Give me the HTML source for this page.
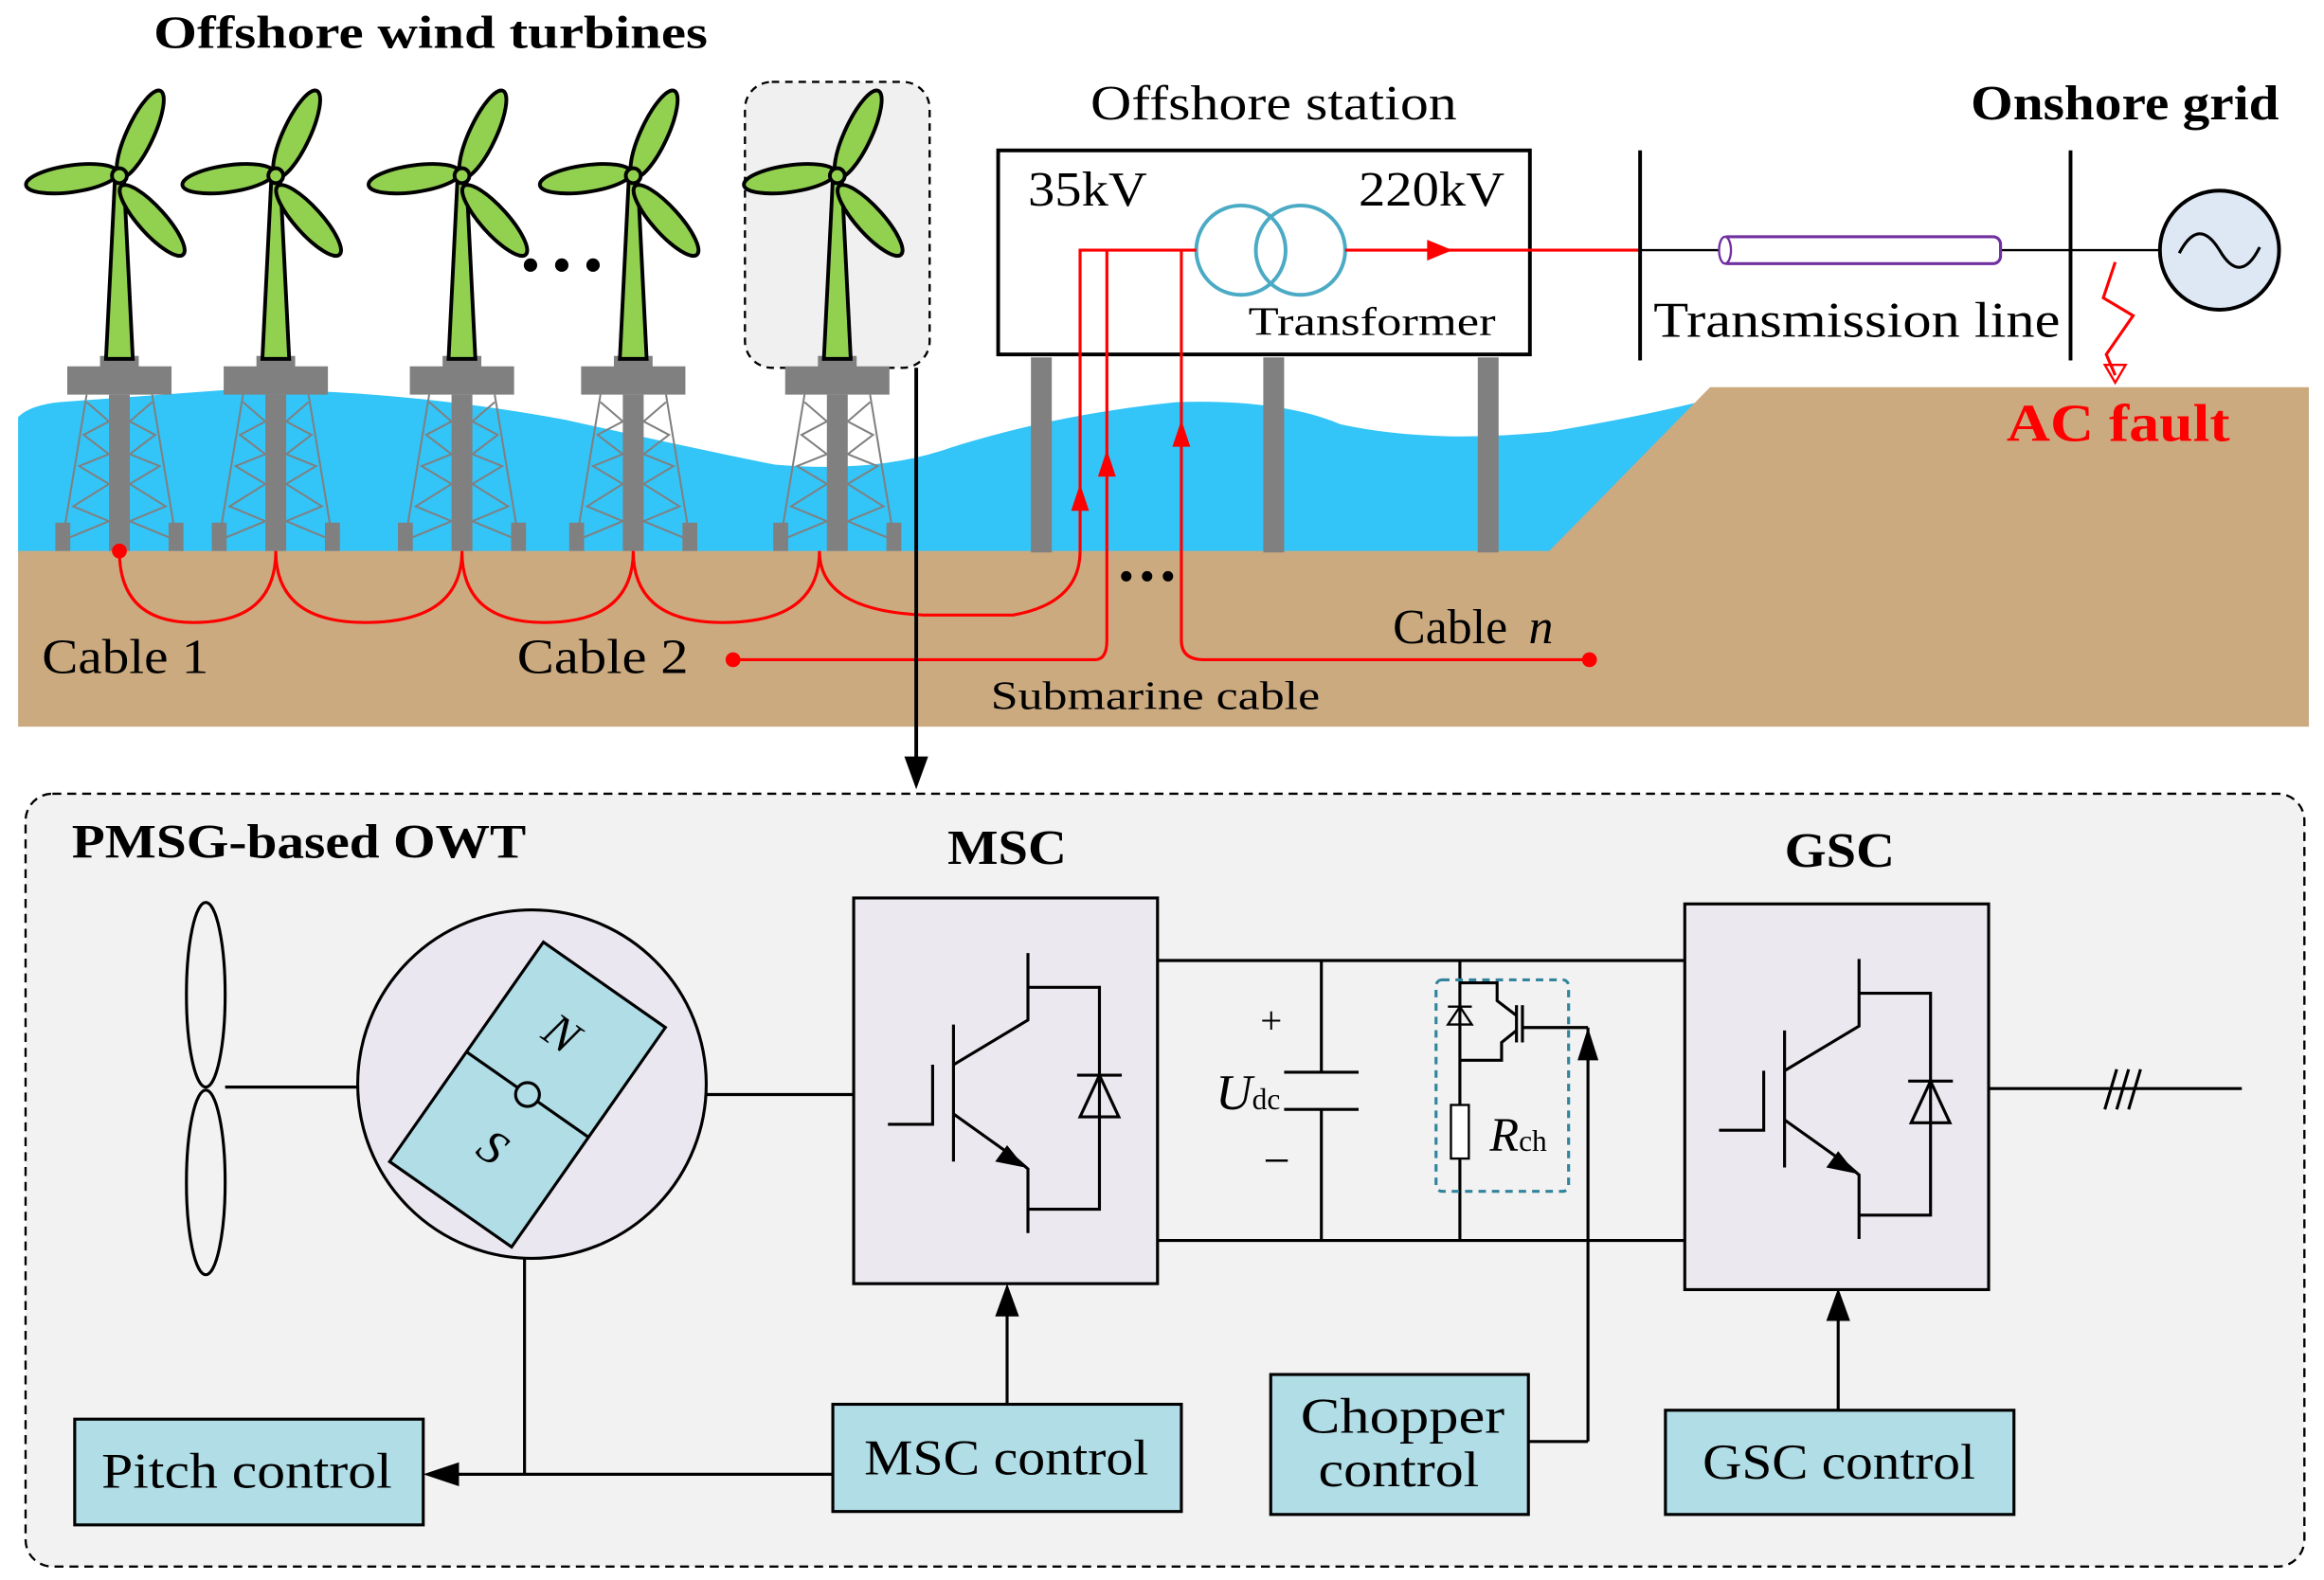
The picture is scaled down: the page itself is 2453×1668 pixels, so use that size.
<!DOCTYPE html>
<html><head><meta charset="utf-8"><style>
html,body{margin:0;padding:0;background:#fff;}
svg{display:block;}
text{font-family:"Liberation Serif",serif;fill:#000;}
</style></head><body>
<svg width="2453" height="1668" viewBox="0 0 1560 1061" xmlns="http://www.w3.org/2000/svg">
<defs>
<g id="tb">
  <g stroke="#000" stroke-width="2.5" fill="#92d050">
    <polygon points="-3,120 3,120 9,241 -9,241"/>
    <g transform="translate(0,118)">
    <ellipse cx="14" cy="-28" rx="9" ry="32" transform="rotate(25 14 -28)"/>
    <ellipse cx="-32" cy="2" rx="31" ry="9" transform="rotate(-8 -32 2)"/>
    <ellipse cx="22" cy="30" rx="9" ry="31" transform="rotate(-42 22 30)"/>
    <circle cx="0" cy="0" r="5"/>
    </g>
  </g>
</g>
<g id="pl">
  <rect x="-13" y="239" width="26" height="8" fill="#808080"/>
  <rect x="-35" y="246" width="70" height="19" fill="#808080"/>
  <rect x="-7" y="265" width="14" height="105" fill="#808080"/>
  <g stroke="#808080" stroke-width="1.3" fill="none">
    <line x1="-22" y1="265" x2="-39" y2="368"/><line x1="22" y1="265" x2="39" y2="368"/>
    <polyline points="-22,270 -7,283 -24,292 -7,305 -27,313 -7,325 -31,340 -7,350 -36,362"/>
    <polyline points="22,270 7,283 24,292 7,305 27,313 7,325 31,340 7,350 36,362"/>
  </g>
  <rect x="-43" y="351" width="10" height="19" fill="#808080"/>
  <rect x="33" y="351" width="10" height="19" fill="#808080"/>
</g>
</defs>

<!-- sea -->
<path d="M12,280 Q20,272 40,270 L150,262 Q260,260 380,282 Q460,300 520,312 Q590,318 640,300 Q710,278 790,270 Q860,268 900,285 Q960,298 1040,290 Q1100,280 1140,270 L1140,372 L12,372 Z" fill="#33c4f8"/>
<path d="M12,370 L1040,370 L1148,260 L1550,260 L1550,488 L12,488 Z" fill="#ccaa80"/>

<text x="103" y="32" font-size="31" font-weight="bold" textLength="372" lengthAdjust="spacingAndGlyphs">Offshore wind turbines</text>
<rect x="500" y="55" width="124" height="192" rx="18" fill="#f0f0f0" stroke="#000" stroke-width="1.5" stroke-dasharray="5,4"/>

<g transform="translate(80,0)"><use href="#pl"/><use href="#tb"/></g>
<g transform="translate(185,0)"><use href="#pl"/><use href="#tb"/></g>
<g transform="translate(310,0)"><use href="#pl"/><use href="#tb"/></g>
<g transform="translate(425,0)"><use href="#pl"/><use href="#tb"/></g>
<g transform="translate(562,0)"><use href="#pl"/><use href="#tb"/></g>
<g fill="#000"><circle cx="356" cy="178" r="4.5"/><circle cx="377" cy="178" r="4.5"/><circle cx="398" cy="178" r="4.5"/>
<circle cx="756" cy="387" r="3.5"/><circle cx="770" cy="387" r="3.5"/><circle cx="784" cy="387" r="3.5"/></g>

<!-- offshore station -->
<rect x="670" y="101" width="357" height="137" fill="#fff" stroke="#000" stroke-width="2.5"/>
<rect x="692" y="240" width="14" height="131" fill="#808080"/>
<rect x="848" y="240" width="14" height="131" fill="#808080"/>
<rect x="992" y="240" width="14" height="131" fill="#808080"/>
<text x="732" y="80" font-size="33" textLength="246" lengthAdjust="spacingAndGlyphs">Offshore station</text>
<text x="690" y="138" font-size="33" textLength="80" lengthAdjust="spacingAndGlyphs">35kV</text>
<text x="912" y="138" font-size="33" textLength="98" lengthAdjust="spacingAndGlyphs">220kV</text>
<circle cx="833" cy="168" r="30" fill="none" stroke="#4baac4" stroke-width="2.5"/>
<circle cx="873" cy="168" r="30" fill="none" stroke="#4baac4" stroke-width="2.5"/>
<text x="838" y="225" font-size="27" textLength="166" lengthAdjust="spacingAndGlyphs">Transformer</text>

<!-- red cables -->
<g stroke="red" stroke-width="2" fill="none">
  <polyline points="803,168 725,168 725,370"/>
  <line x1="743" y1="168" x2="743" y2="430"/>
  <line x1="793" y1="168" x2="793" y2="430"/>
  <line x1="903" y1="168" x2="1100" y2="168"/>
  <path d="M80,370 Q80,418 130,418 Q185,418 185,370 Q185,418 245,418 Q310,418 310,370 Q310,418 365,418 Q425,418 425,370 Q425,418 485,418 Q550,418 550,370 Q550,410 620,413 L680,413 Q725,405 725,370"/>
  <path d="M492,443 L735,443 Q743,443 743,430"/>
  <path d="M793,430 Q793,443 808,443 L1067,443"/>
  <polyline points="1420,176 1412,200 1432,212 1414,238 1420,252"/>
</g>
<g fill="red">
  <polygon points="725,325 719,343 731,343"/><polygon points="743,302 737,320 749,320"/><polygon points="793,282 787,300 799,300"/>
  <polygon points="975,168 958,161 958,175"/>
  <circle cx="80" cy="370" r="5"/><circle cx="492" cy="443" r="5"/><circle cx="1067" cy="443" r="5"/>
  <polygon points="1420,257 1413,245 1427,245" fill="none" stroke="red" stroke-width="1.5"/>
</g>
<text x="28" y="452" font-size="33" textLength="112" lengthAdjust="spacingAndGlyphs">Cable 1</text>
<text x="347" y="452" font-size="33" textLength="115" lengthAdjust="spacingAndGlyphs">Cable 2</text>
<text x="935" y="432" font-size="33">Cable <tspan font-style="italic" dx="6">n</tspan></text>
<text x="665" y="476" font-size="27" textLength="221" lengthAdjust="spacingAndGlyphs">Submarine cable</text>

<!-- onshore -->
<g stroke="#000" stroke-width="2.5">
<line x1="1101" y1="101" x2="1101" y2="242"/><line x1="1390" y1="101" x2="1390" y2="242"/>
<line x1="1100" y1="168" x2="1155" y2="168" stroke-width="1.5"/><line x1="1343" y1="168" x2="1450" y2="168" stroke-width="1.5"/>
</g>
<rect x="1155" y="159" width="188" height="18" rx="5" fill="#fff" stroke="#7030a0" stroke-width="2"/>
<ellipse cx="1158" cy="168" rx="4" ry="9" fill="#fff" stroke="#7030a0" stroke-width="1.5"/>
<circle cx="1490" cy="168" r="40" fill="#dde8f4" stroke="#000" stroke-width="2.5"/>
<path d="M1463,170 Q1476,145 1490,168 Q1504,192 1517,166" fill="none" stroke="#000" stroke-width="2"/>
<text x="1110" y="226" font-size="34" textLength="273" lengthAdjust="spacingAndGlyphs">Transmission line</text>
<text x="1323" y="80" font-size="33" font-weight="bold" textLength="207" lengthAdjust="spacingAndGlyphs">Onshore grid</text>
<text x="1347" y="296" font-size="36" font-weight="bold" textLength="150" lengthAdjust="spacingAndGlyphs" style="fill:red">AC fault</text>

<line x1="615" y1="247" x2="615" y2="512" stroke="#000" stroke-width="2.5"/>
<polygon points="615,530 607,508 623,508" fill="#000"/>

<!-- bottom panel -->
<rect x="17" y="533" width="1530" height="519" rx="18" fill="#f2f2f2" stroke="#000" stroke-width="1.5" stroke-dasharray="6,4"/>
<text x="48" y="576" font-size="32" font-weight="bold" textLength="305" lengthAdjust="spacingAndGlyphs">PMSG-based OWT</text>
<text x="636" y="580" font-size="33" font-weight="bold" textLength="80" lengthAdjust="spacingAndGlyphs">MSC</text>
<text x="1198" y="582" font-size="33" font-weight="bold" textLength="74" lengthAdjust="spacingAndGlyphs">GSC</text>

<g stroke="#000" stroke-width="2" fill="none">
  <ellipse cx="138" cy="668" rx="13" ry="62"/><ellipse cx="138" cy="794" rx="13" ry="62"/>
  <line x1="151" y1="730" x2="240" y2="730"/>
  <line x1="474" y1="735" x2="573" y2="735"/>
  <line x1="777" y1="645" x2="1131" y2="645"/><line x1="777" y1="833" x2="1131" y2="833"/>
  <line x1="887" y1="645" x2="887" y2="720"/><line x1="887" y1="745" x2="887" y2="833"/>
  <line x1="862" y1="720" x2="912" y2="720"/><line x1="862" y1="745" x2="912" y2="745"/>
  <line x1="980" y1="645" x2="980" y2="742"/><line x1="980" y1="778" x2="980" y2="833"/>
  <polyline points="980,660 1005,660 1005,672 1018,682"/>
  <polyline points="980,712 1008,712 1008,700 1018,692"/>
  <line x1="1018" y1="675" x2="1018" y2="700"/>
  <line x1="1022" y1="675" x2="1022" y2="700"/>
  <line x1="1022" y1="690" x2="1066" y2="690"/>
  <line x1="1066" y1="690" x2="1066" y2="968"/>
  <line x1="1026" y1="968" x2="1066" y2="968"/>
  <line x1="1335" y1="731" x2="1505" y2="731"/>
  <line x1="1413" y1="745" x2="1421" y2="718"/><line x1="1421" y1="745" x2="1429" y2="718"/><line x1="1429" y1="745" x2="1437" y2="718"/>
  <line x1="676" y1="943" x2="676" y2="882"/>
  <line x1="1234" y1="947" x2="1234" y2="885"/>
  <line x1="559" y1="990" x2="305" y2="990"/>
  <line x1="352" y1="745" x2="352" y2="990"/>
</g>
<polygon points="972,688 988,688 980,676" fill="none" stroke="#000" stroke-width="1.5"/><line x1="972" y1="676" x2="988" y2="676" stroke="#000" stroke-width="1.5"/>
<rect x="974" y="742" width="12" height="36" fill="#fff" stroke="#000" stroke-width="1.5"/>
<rect x="964" y="658" width="89" height="142" rx="4" fill="none" stroke="#31849b" stroke-width="2" stroke-dasharray="5,4"/>
<g fill="#000">
  <polygon points="1066,690 1059,712 1073,712"/>
  <polygon points="676,862 668,884 684,884"/>
  <polygon points="1234,865 1226,887 1242,887"/>
  <polygon points="284,990 308,982 308,998"/>
</g>
<text x="846" y="694" font-size="26">+</text>
<text x="848" y="790" font-size="32">−</text>
<text x="816" y="745" font-size="34" font-style="italic">U<tspan font-size="20" font-style="normal">dc</tspan></text>
<text x="1000" y="773" font-size="32" font-style="italic">R<tspan font-size="20" font-style="normal">ch</tspan></text>

<!-- generator -->
<circle cx="357" cy="728" r="117" fill="#ebe7f0" stroke="#000" stroke-width="2"/>
<g transform="rotate(35 354 735)">
  <rect x="304" y="645" width="100" height="180" fill="#b0dde6" stroke="#000" stroke-width="2"/>
  <line x1="304" y1="735" x2="404" y2="735" stroke="#000" stroke-width="2"/>
</g>
<circle cx="354" cy="735" r="8" fill="#b0dde6" stroke="#000" stroke-width="2"/>
<text x="366" y="704" font-size="32" font-style="italic" transform="rotate(35 376 694)">N</text>
<text x="322" y="782" font-size="32" font-style="italic" transform="rotate(35 332 772)">S</text>

<!-- converters -->
<g id="cv">
<rect x="573" y="603" width="204" height="259" fill="#ebe8ef" stroke="#000" stroke-width="2"/>
<g stroke="#000" stroke-width="2" fill="none">
  <polyline points="596,755 626,755 626,715"/>
  <line x1="640" y1="688" x2="640" y2="780"/>
  <polyline points="640,715 690,685 690,640"/>
  <polyline points="640,748 682,778 690,785 690,828"/>
  <polyline points="690,663 738,663 738,812 690,812"/>
  <line x1="723" y1="722" x2="753" y2="722"/>
  <polygon points="738,722 725,750 751,750"/>
</g>
<polygon points="688,784 668,780 676,769" fill="#000"/>
</g>
<use href="#cv" transform="translate(558,4)"/>

<!-- controls -->
<g fill="#b0dde6" stroke="#000" stroke-width="2">
<rect x="50" y="953" width="234" height="71"/>
<rect x="559" y="943" width="234" height="72"/>
<rect x="853" y="923" width="173" height="94"/>
<rect x="1118" y="947" width="234" height="70"/>
</g>
<text x="68" y="999" font-size="34" textLength="195" lengthAdjust="spacingAndGlyphs">Pitch control</text>
<text x="580" y="990" font-size="34" textLength="191" lengthAdjust="spacingAndGlyphs">MSC control</text>
<text x="873" y="962" font-size="34" textLength="137" lengthAdjust="spacingAndGlyphs">Chopper</text>
<text x="885" y="998" font-size="34" textLength="108" lengthAdjust="spacingAndGlyphs">control</text>
<text x="1143" y="993" font-size="34" textLength="183" lengthAdjust="spacingAndGlyphs">GSC control</text>
</svg>
</body></html>
